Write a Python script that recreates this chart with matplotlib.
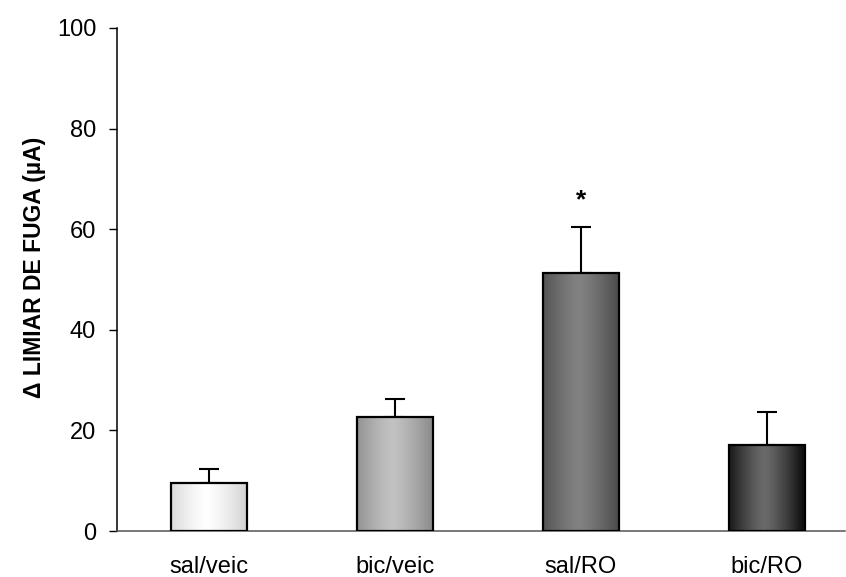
import numpy as np
import matplotlib
matplotlib.use("Agg")
import matplotlib.pyplot as plt
from matplotlib.colors import LinearSegmentedColormap
from matplotlib.patches import Rectangle

categories = ["sal/veic", "bic/veic", "sal/RO", "bic/RO"]
means = [9.5, 22.6, 51.2, 17.1]
sems = [2.8, 3.6, 9.2, 6.6]
yticks = [0, 20, 40, 60, 80, 100]
# (edge colour, centre colour) of each bar's horizontal gradient
gradients = [("#d6d6d6", "#ffffff"), ("#8e8e8e", "#c2c2c2"),
             ("#4e4e4e", "#828282"), ("#101010", "#6a6a6a")]

plt.rcParams['font.family'] = ['Liberation Sans', 'DejaVu Sans']

fig = plt.figure(figsize=(8.46, 5.77), dpi=100)
ax = fig.add_axes([117/846, 46/577, (845-117)/846, (531-28)/577])

x = np.arange(len(categories))
width = 0.41
bars = ax.bar(x, means, width=width, color='none', edgecolor='black',
              linewidth=1.6, zorder=3)
ax.errorbar(x, means, yerr=[np.zeros(len(sems)), sems], fmt='none',
            ecolor='black', elinewidth=1.5, capsize=7.5, capthick=1.5, zorder=2)

grad = np.abs(np.linspace(-1, 1, 256) + 0.08)
grad = np.clip(grad, 0, 1) ** 1.3
for b, (edge, centre) in zip(bars, gradients):
    cmap = LinearSegmentedColormap.from_list("g", [centre, edge])
    x0, y0 = b.get_x(), b.get_y()
    w, h = b.get_width(), b.get_height()
    im = ax.imshow(grad[np.newaxis, :], cmap=cmap, vmin=0, vmax=1,
                   extent=[x0, x0 + w, y0, y0 + h], aspect='auto', zorder=2.5,
                   interpolation='bilinear')
    im.set_clip_path(Rectangle((x0, y0), w, h, transform=ax.transData))

ax.text(x[2], means[2] + sems[2] + 5.3, "*", ha='center', va='center',
        fontsize=19, fontweight='bold')

ax.set_xlim(-0.495, 3.42)
ax.set_ylim(0, 100)
ax.set_yticks(yticks)
ax.set_xticks(x)
ax.set_xticklabels(categories)
ax.tick_params(axis='x', length=0, pad=18, labelsize=17)
ax.tick_params(axis='y', length=6, width=1, pad=9, labelsize=17,
               direction='out')
for s in ['top', 'right']:
    ax.spines[s].set_visible(False)
ax.spines['left'].set_linewidth(1.1)
ax.spines['bottom'].set_linewidth(1.1)
ax.spines['bottom'].set_color('#555555')
ax.set_ylabel("Δ LIMIAR DE FUGA (µA)", fontsize=16.5, fontweight='bold')
ax.yaxis.set_label_coords(-0.098, 0.525)

fig.savefig("out.png", dpi=100)
